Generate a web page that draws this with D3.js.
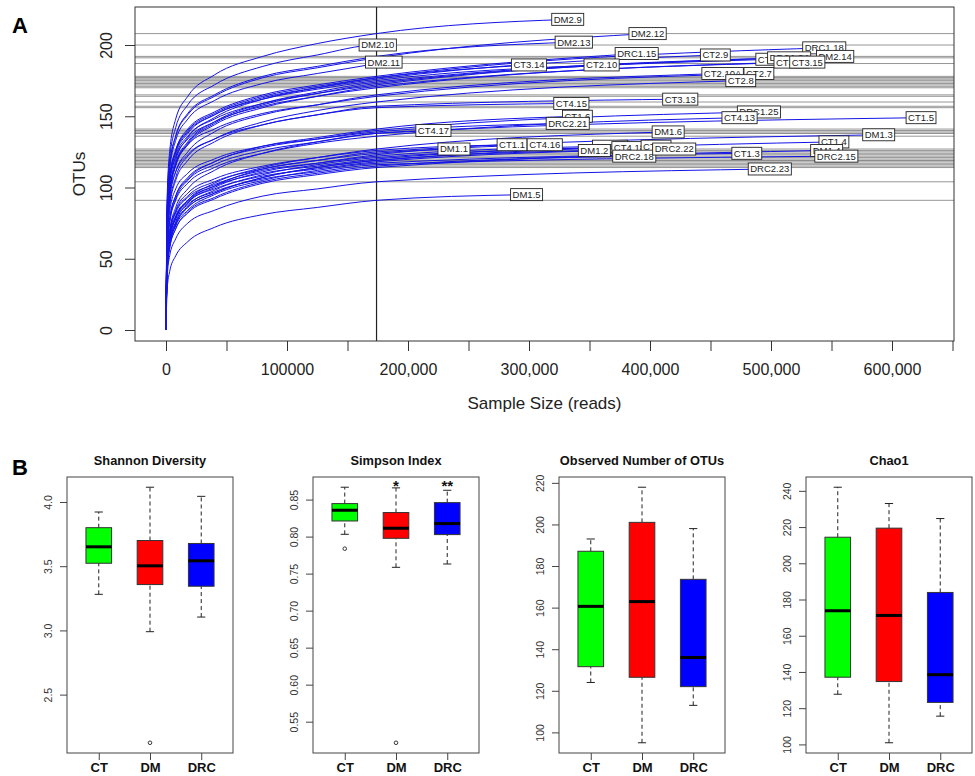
<!DOCTYPE html>
<html>
<head>
<meta charset="utf-8">
<script src="https://cdn.jsdelivr.net/npm/d3@7"></script>
<style>
  body { margin: 0; background: #fff; }
  svg { display: block; font-family: "Liberation Sans", Arial, sans-serif; }
</style>
</head>
<body>
<svg id="fig"></svg>
<script>
// ---------- Panel A: rarefaction curves ----------
const rarefyDepth = 174000;
const depthGrid = [0, 1000, 3000, 8000, 18000, 40000, 80000, 125000, 174000];

const sampleNames = [
  "DM2.9", "DM2.12", "DM2.10", "DM2.13", "DM2.11", "DRC1.15", "DRC1.18", "DM2.14",
  "CT2.9", "CT3.14", "CT2.10", "CT3.12", "DRC1.24", "CT3.16", "CT3.15", "CT2.10A",
  "CT2.7", "CT2.8", "CT3.13", "CT4.15", "DRC1.25", "CT4.13", "CT1.5", "CT1.6",
  "DRC2.21", "CT4.17", "DM1.6", "DM1.3", "DM1.1", "CT1.1", "CT4.16", "CT4.19",
  "CT4.18", "CT1.2", "DM1.2", "DRC2.18", "DRC2.22", "CT1.4", "DM1.4", "DRC2.15",
  "CT1.3", "DRC2.23", "DM1.5"
];
const sampleReads = [
  332000, 398000, 175000, 337000, 180000, 389000, 544000, 553000,
  454000, 300000, 360000, 502000, 515000, 517000, 530000, 460000,
  490000, 475000, 425000, 335000, 490000, 474000, 624000, 340000,
  332000, 221000, 415000, 589000, 238000, 286000, 313000, 367000,
  383000, 405000, 354000, 387000, 420000, 552000, 546000, 554000,
  480000, 499000, 298000
];
const sampleOtus = [
  218, 208, 200, 202, 188, 194, 198, 192,
  193, 186, 186, 190, 191, 188, 188, 180,
  180, 175, 162, 159, 153, 149, 149, 150,
  145, 140, 139, 137, 127, 130, 130, 129,
  128, 129, 126, 122, 127, 132, 126, 122,
  124, 113, 95
];
// OTUs at depthGrid for each sample
const curveOtus = [
  [0, 94, 125, 148, 164, 179, 192, 201, 208],
  [0, 86, 115, 136, 151, 164, 177, 184, 191],
  [0, 90, 120, 142, 158, 172, 185, 193, 200],
  [0, 86, 115, 136, 152, 165, 178, 185, 192],
  [0, 84, 112, 133, 148, 161, 173, 180, 187],
  [0, 80, 107, 126, 141, 153, 165, 172, 178],
  [0, 71, 97, 119, 135, 149, 162, 170, 177],
  [0, 70, 96, 117, 132, 146, 159, 167, 174],
  [0, 79, 106, 125, 139, 151, 163, 170, 176],
  [0, 80, 106, 126, 140, 152, 164, 171, 177],
  [0, 79, 105, 124, 138, 151, 162, 169, 175],
  [0, 69, 95, 116, 131, 145, 158, 166, 173],
  [0, 77, 103, 122, 136, 148, 159, 166, 172],
  [0, 77, 102, 121, 134, 146, 157, 164, 170],
  [0, 68, 94, 115, 130, 144, 156, 164, 171],
  [0, 66, 91, 111, 125, 139, 151, 158, 165],
  [0, 74, 98, 116, 130, 141, 152, 158, 164],
  [0, 64, 88, 107, 122, 134, 146, 154, 160],
  [0, 63, 86, 105, 119, 132, 144, 151, 157],
  [0, 70, 94, 111, 123, 134, 144, 151, 156],
  [0, 56, 77, 94, 106, 118, 128, 134, 140],
  [0, 54, 75, 91, 103, 114, 124, 131, 136],
  [0, 50, 69, 86, 99, 112, 124, 132, 138],
  [0, 56, 78, 94, 107, 118, 129, 135, 141],
  [0, 63, 83, 99, 110, 120, 129, 134, 139],
  [0, 55, 76, 92, 105, 116, 126, 132, 138],
  [0, 46, 64, 79, 91, 103, 114, 121, 127],
  [0, 45, 63, 78, 90, 101, 113, 119, 125],
  [0, 50, 68, 83, 94, 104, 113, 119, 124],
  [0, 50, 69, 84, 96, 106, 115, 121, 126],
  [0, 44, 62, 76, 89, 100, 111, 117, 123],
  [0, 49, 67, 82, 93, 102, 112, 117, 122],
  [0, 44, 61, 75, 87, 98, 109, 116, 121],
  [0, 48, 66, 80, 91, 101, 110, 115, 120],
  [0, 43, 60, 74, 86, 96, 107, 114, 119],
  [0, 41, 58, 71, 83, 93, 104, 110, 115],
  [0, 47, 65, 79, 90, 99, 108, 113, 118],
  [0, 43, 60, 74, 86, 96, 107, 114, 119],
  [0, 41, 57, 71, 82, 92, 103, 109, 114],
  [0, 46, 64, 78, 88, 97, 106, 111, 116],
  [0, 42, 59, 73, 84, 95, 105, 112, 117],
  [0, 37, 52, 64, 75, 84, 94, 99, 104],
  [0, 29, 41, 52, 62, 72, 81, 86, 91]
];

const xTicks = [0, 50000, 100000, 150000, 200000, 250000, 300000, 350000,
  400000, 450000, 500000, 550000, 600000, 650000];
const xLabelValues = [0, 100000, 200000, 300000, 400000, 500000, 600000];
const xLabelText = ["0", "100000", "200,000", "300,000", "400,000", "500,000", "600,000"];
const yTicks = [0, 50, 100, 150, 200];

// ---------- Panel B: alpha diversity boxplots ----------
const groups = ["CT", "DM", "DRC"];
const groupColors = ["#00ff00", "#ff0000", "#0000ff"];
// [lower whisker, Q1, median, Q3, upper whisker]
const shannonStats = [[3.281, 3.523, 3.651, 3.80, 3.922], [2.99, 3.357, 3.503, 3.70, 4.115], [3.104, 3.344, 3.542, 3.677, 4.044]];
const shannonOutliers = [[], [2.125], []];
const shannonTicks = [2.5, 3.0, 3.5, 4.0];
const simpsonStats = [[0.8031, 0.8211, 0.8356, 0.8446, 0.8667], [0.7585, 0.7977, 0.8113, 0.8325, 0.8658], [0.763, 0.8027, 0.8176, 0.8459, 0.8626]];
const simpsonOutliers = [[0.7837], [0.5215], []];
const simpsonTicks = [0.55, 0.60, 0.65, 0.70, 0.75, 0.80, 0.85];
const simpsonStars = ["", "*", "**"];
const observedStats = [[124, 131.6, 160.6, 187.1, 193], [95, 126.5, 162.9, 201, 217.9], [113, 122, 136, 173.6, 198]];
const observedOutliers = [[], [], []];
const observedTicks = [100, 120, 140, 160, 180, 200, 220];
const chaoStats = [[127.7, 137.1, 173.8, 214.4, 242], [100.9, 134.7, 171.2, 219.4, 233], [115.6, 123.2, 138.5, 183.9, 224.7]];
const chaoOutliers = [[], [], []];
const chaoTicks = [100, 120, 140, 160, 180, 200, 220, 240];

const svg = d3.select("#fig").attr("width", 975).attr("height", 776);
svg.append("rect").attr("width", 975).attr("height", 776).attr("fill", "#fff");

// ================= Panel A =================
const frameA = { left: 135, right: 954, top: 7, bottom: 341 };
const x = d3.scaleLinear().domain([0, 650000]).range([166, 952.5]);
const y = d3.scaleLinear().domain([0, 200]).range([330, 45]);

const gA = svg.append("g");

// horizontal lines at rarefied richness
gA.selectAll(".hline")
  .data(curveOtus)
  .join("line")
  .attr("class", "hline")
  .attr("x1", frameA.left).attr("x2", frameA.right)
  .attr("y1", d => y(d[d.length - 1])).attr("y2", d => y(d[d.length - 1]))
  .attr("stroke", "#8a8a8a").attr("stroke-width", 0.9);

// vertical line at rarefaction depth
gA.append("line")
  .attr("x1", x(rarefyDepth)).attr("x2", x(rarefyDepth))
  .attr("y1", frameA.top).attr("y2", frameA.bottom)
  .attr("stroke", "#222").attr("stroke-width", 1.2);

// curves
const curveLine = d3.line().x(d => x(d[0])).y(d => y(d[1])).curve(d3.curveMonotoneX);
const curvePoints = curveOtus.map((vals, i) =>
  depthGrid.map((dp, j) => [dp, vals[j]]).concat([[sampleReads[i], sampleOtus[i]]]));

gA.selectAll(".curve")
  .data(curvePoints)
  .join("path")
  .attr("class", "curve")
  .attr("d", curveLine)
  .attr("fill", "none")
  .attr("stroke", "#1414e6")
  .attr("stroke-width", 1);

// end-of-curve labels
sampleNames.forEach((name, i) => {
  const cx = x(sampleReads[i]), cy = y(sampleOtus[i]);
  const lg = gA.append("g").attr("transform", `translate(${cx},${cy})`);
  const rect = lg.append("rect");
  const t = lg.append("text")
    .attr("text-anchor", "middle")
    .attr("dy", "0.36em")
    .attr("font-size", 9.5)
    .attr("fill", "#222")
    .text(name);
  const w = t.node().getComputedTextLength() + 4;
  rect.attr("x", -w / 2).attr("y", -6).attr("width", w).attr("height", 12)
    .attr("fill", "#fff").attr("stroke", "#222").attr("stroke-width", 0.9);
});

// frame
gA.append("rect")
  .attr("x", frameA.left).attr("y", frameA.top)
  .attr("width", frameA.right - frameA.left).attr("height", frameA.bottom - frameA.top)
  .attr("fill", "none").attr("stroke", "#333").attr("stroke-width", 1);

// x axis
const xAxis = d3.axisBottom(x).tickValues(xTicks).tickSize(10).tickPadding(13)
  .tickFormat(d => { const k = xLabelValues.indexOf(d); return k < 0 ? "" : xLabelText[k]; });
const xAxisG = gA.append("g").attr("transform", `translate(0,${frameA.bottom})`).call(xAxis);
xAxisG.select(".domain").remove();
xAxisG.selectAll("line").attr("stroke", "#333");
xAxisG.selectAll("text").attr("font-size", 16).attr("fill", "#222").attr("font-family", "Liberation Sans, Arial, sans-serif");

// y axis
const yAxis = d3.axisLeft(y).tickValues(yTicks).tickSize(10);
const yAxisG = gA.append("g").attr("transform", `translate(${frameA.left},0)`).call(yAxis);
yAxisG.select(".domain").remove();
yAxisG.selectAll("line").attr("stroke", "#333");
yAxisG.selectAll("text")
  .attr("x", null).attr("dy", null)
  .attr("text-anchor", "middle")
  .attr("transform", "translate(-23,0) rotate(-90)")
  .attr("font-size", 16).attr("fill", "#222").attr("font-family", "Liberation Sans, Arial, sans-serif");

gA.append("text")
  .attr("x", (frameA.left + frameA.right) / 2).attr("y", 409)
  .attr("text-anchor", "middle").attr("font-size", 17).attr("fill", "#222")
  .text("Sample Size (reads)");
gA.append("text")
  .attr("transform", "translate(85,174) rotate(-90)")
  .attr("text-anchor", "middle").attr("font-size", 17).attr("fill", "#222")
  .text("OTUs");

svg.append("text").attr("x", 12).attr("y", 33).attr("font-size", 22).attr("font-weight", "bold").text("A");
svg.append("text").attr("x", 12).attr("y", 475).attr("font-size", 22).attr("font-weight", "bold").text("B");

// ================= Panel B =================
const boxPanels = [
  { title: "Shannon Diversity", stats: shannonStats, outliers: shannonOutliers, ticks: shannonTicks, fmt: ".1f", stars: null, left: 67 },
  { title: "Simpson Index", stats: simpsonStats, outliers: simpsonOutliers, ticks: simpsonTicks, fmt: ".2f", stars: simpsonStars, left: 313 },
  { title: "Observed Number of OTUs", stats: observedStats, outliers: observedOutliers, ticks: observedTicks, fmt: "d", stars: null, left: 559 },
  { title: "Chao1", stats: chaoStats, outliers: chaoOutliers, ticks: chaoTicks, fmt: "d", stars: null, left: 806 }
];
const bTop = 477, bBottom = 753, bWidth = 166;

boxPanels.forEach(p => {
  const g = svg.append("g");
  const all = p.stats.flat().concat(p.outliers.flat());
  const [lo, hi] = d3.extent(all);
  const pad = (hi - lo) * 0.04;
  const ys = d3.scaleLinear().domain([lo - pad, hi + pad]).range([bBottom, bTop]);
  const xs = d3.scaleLinear().domain([0.38, 3.62]).range([p.left, p.left + bWidth]);
  const halfBox = xs(1.25) - xs(1);
  const halfCap = xs(1.08) - xs(1);

  p.stats.forEach((s, i) => {
    const cx = xs(i + 1);
    // whiskers
    [[s[0], s[1]], [s[3], s[4]]].forEach(([a, b]) => {
      g.append("line").attr("x1", cx).attr("x2", cx).attr("y1", ys(a)).attr("y2", ys(b))
        .attr("stroke", "#222").attr("stroke-width", 1).attr("stroke-dasharray", "4,3");
    });
    [s[0], s[4]].forEach(v => {
      g.append("line").attr("x1", cx - halfCap).attr("x2", cx + halfCap).attr("y1", ys(v)).attr("y2", ys(v))
        .attr("stroke", "#222").attr("stroke-width", 1);
    });
    g.append("rect")
      .attr("x", cx - halfBox).attr("width", halfBox * 2)
      .attr("y", ys(s[3])).attr("height", ys(s[1]) - ys(s[3]))
      .attr("fill", groupColors[i]).attr("stroke", "#333").attr("stroke-width", 1);
    g.append("line").attr("x1", cx - halfBox).attr("x2", cx + halfBox).attr("y1", ys(s[2])).attr("y2", ys(s[2]))
      .attr("stroke", "#000").attr("stroke-width", 3);
    p.outliers[i].forEach(v => {
      g.append("circle").attr("cx", cx).attr("cy", ys(v)).attr("r", 1.8)
        .attr("fill", "none").attr("stroke", "#222").attr("stroke-width", 0.9);
    });
    if (p.stars && p.stars[i]) {
      g.append("text").attr("x", cx).attr("y", bTop + 14)
        .attr("text-anchor", "middle").attr("font-size", 15).attr("font-weight", "bold")
        .attr("fill", "#111").text(p.stars[i]);
    }
  });

  g.append("rect").attr("x", p.left).attr("y", bTop).attr("width", bWidth).attr("height", bBottom - bTop)
    .attr("fill", "none").attr("stroke", "#444").attr("stroke-width", 1);

  const yAx = g.append("g").attr("transform", `translate(${p.left},0)`)
    .call(d3.axisLeft(ys).tickValues(p.ticks).tickSize(7).tickFormat(d3.format(p.fmt)));
  yAx.select(".domain").remove();
  yAx.selectAll("line").attr("stroke", "#444");
  yAx.selectAll("text")
    .attr("x", null).attr("dy", null)
    .attr("text-anchor", "middle")
    .attr("transform", "translate(-15,0) rotate(-90)")
    .attr("font-size", 10.5).attr("fill", "#333").attr("font-family", "Liberation Sans, Arial, sans-serif");

  const xAx = g.append("g").attr("transform", `translate(0,${bBottom})`)
    .call(d3.axisBottom(xs).tickValues([1, 2, 3]).tickSize(7).tickPadding(3).tickFormat((d, i) => groups[i]));
  xAx.select(".domain").remove();
  xAx.selectAll("line").attr("stroke", "#444");
  xAx.selectAll("text").attr("font-size", 13).attr("font-weight", "bold").attr("fill", "#111")
    .attr("font-family", "Liberation Sans, Arial, sans-serif");

  g.append("text").attr("x", p.left + bWidth / 2).attr("y", 465)
    .attr("text-anchor", "middle").attr("font-size", 12.8).attr("font-weight", "bold").attr("fill", "#111")
    .text(p.title);
});
</script>
</body>
</html>
